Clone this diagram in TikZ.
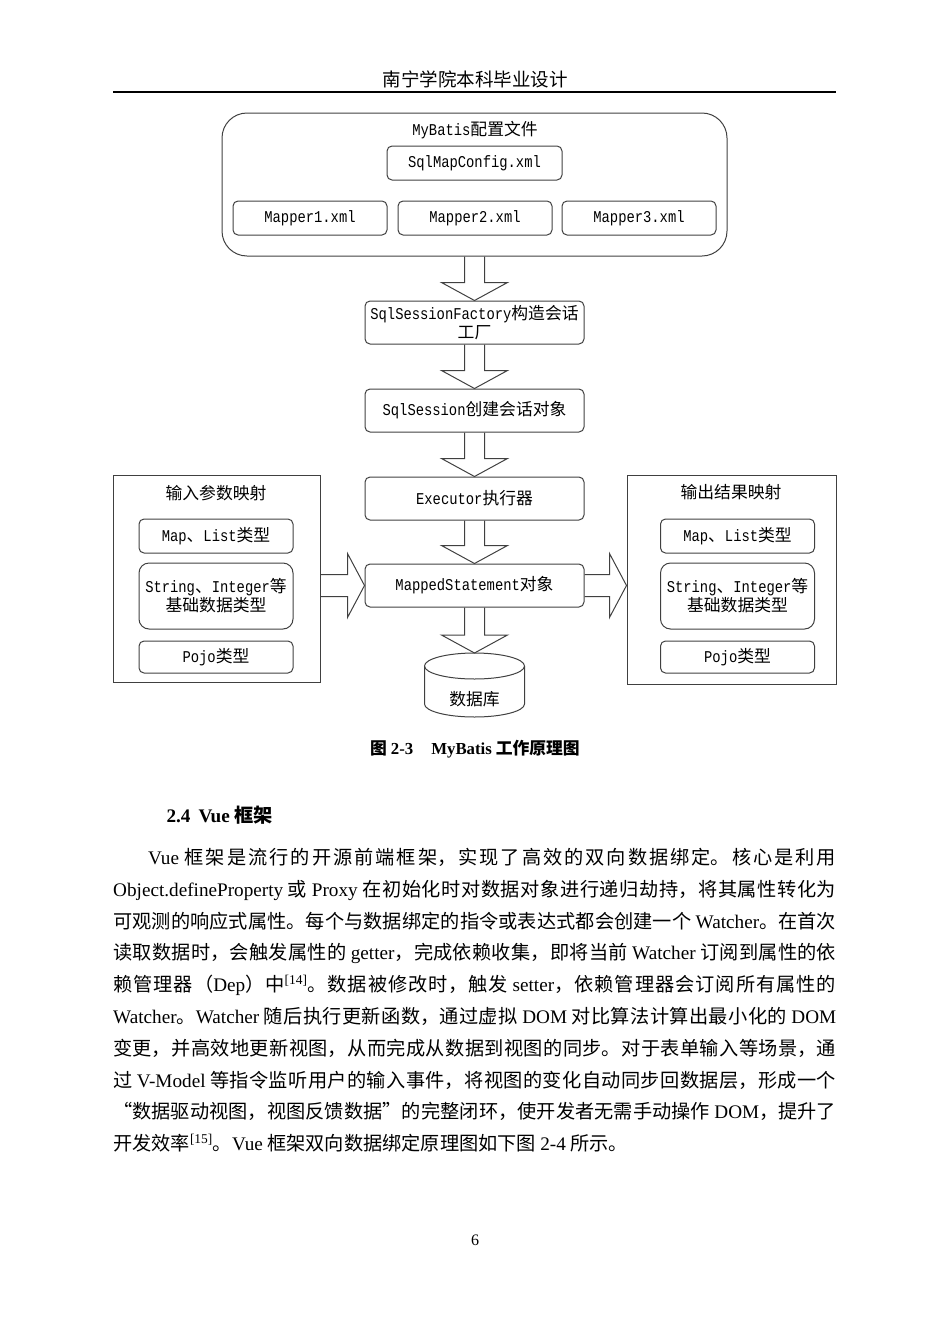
\documentclass[tikz,border=0pt]{standalone}
\usepackage{fontspec}
\setmainfont{Liberation Serif}
\newfontfamily\zhfont{Noto Sans CJK SC}
\newfontfamily\monofont{Liberation Mono}[Scale=0.98, FakeStretch=0.84]
\usetikzlibrary{calc}
\XeTeXlinebreaklocale "zh"
\XeTeXlinebreakskip=0pt plus 3pt minus 0.8pt

\definecolor{linegray}{HTML}{404040}
\newcommand\en[1]{{\rmfamily #1}}
\newcommand\mo[1]{{\monofont #1}}

% block arrows between boxes
\newcommand\blockdown[2]{\draw[blockline] ($#1+(-10,0)$) -- ($#2+(-10,-18)$) -- ($#2+(-33,-18)$) -- #2 -- ($#2+(33,-18)$) -- ($#2+(10,-18)$) -- ($#1+(10,0)$);}
\newcommand\blockright[2]{\draw[blockline] ($#1+(0,-11)$) -- ($#2+(-17,-11)$) -- ($#2+(-17,-32)$) -- #2 -- ($#2+(-17,32)$) -- ($#2+(-17,11)$) -- ($#1+(0,11)$);}

\tikzset{
  diag/.style={font={\zhfont\fontsize{16.8}{19}\selectfont}},
  box/.style={diag, draw=linegray, line width=1pt, rounded corners=5pt, align=center, inner sep=1pt},
  mainbox/.style={box, minimum width=219pt, minimum height=43pt},
  filebox/.style={box, minimum width=154pt, minimum height=34pt},
  typebox/.style={box, minimum width=154pt},
  panel/.style={draw=linegray, line width=1pt, inner sep=0pt},
  blockline/.style={draw=linegray, line width=1pt},
}

\begin{document}
\begin{tikzpicture}[x=1pt, y=-1pt]
  \useasboundingbox (0,0) rectangle (950,1344);

  % page header
  \node[font={\zhfont\fontsize{18.5}{20}\selectfont}] (header) at (475,79) {南宁学院本科毕业设计};
  \draw[line width=1.5pt] (113,92) -- (836,92);

  % configuration files
  \node[panel, rounded corners=25pt, minimum width=505pt, minimum height=143pt] (config) at (474.5,184.5) {};
  \node[diag] (configtitle) at (475,130) {\mo{MyBatis}配置文件};
  \node[box, minimum width=175pt, minimum height=34pt] (mapconfig) at (474.5,163) {\mo{SqlMapConfig.xml}};
  \node[filebox] (mapper1) at (310,218) {\mo{Mapper1.xml}};
  \node[filebox] (mapper2) at (475,218) {\mo{Mapper2.xml}};
  \node[filebox] (mapper3) at (639,218) {\mo{Mapper3.xml}};

  % main flow
  \node[mainbox] (factory) at (474.5,322.5) {\mo{SqlSessionFactory}构造会话\\工厂};
  \node[mainbox] (session) at (474.5,410.5) {\mo{SqlSession}创建会话对象};
  \node[mainbox] (executor) at (474.5,498.5) {\mo{Executor}执行器};
  \node[mainbox] (stmt) at (474.5,585.5) {\mo{MappedStatement}对象};

  % database
  \coordinate (dbtop) at (474.5,653);
  \draw[blockline] (474.5,666) ellipse [x radius=50pt, y radius=13pt];
  \draw[blockline] (424.5,666) -- (424.5,704) arc[start angle=180, end angle=360, x radius=50pt, y radius=13pt] -- (524.5,666);
  \node[diag] (db) at (474.5,699) {数据库};

  % input mapping
  \node[panel, minimum width=207pt, minimum height=207pt] (inbox) at (216.5,578.5) {};
  \node[diag] (intitle) at (216,493) {输入参数映射};
  \node[typebox, minimum height=34pt] (inmap) at (216,536) {\mo{Map}、\mo{List}类型};
  \node[typebox, minimum height=66pt, rounded corners=10pt] (inbasic) at (216,596) {\mo{String}、\mo{Integer}等\\基础数据类型};
  \node[typebox, minimum height=32pt] (inpojo) at (216,657) {\mo{Pojo}类型};

  % output mapping
  \node[panel, minimum width=209pt, minimum height=209pt] (outbox) at (731.5,579.5) {};
  \node[diag] (outtitle) at (731,492) {输出结果映射};
  \node[typebox, minimum height=34pt] (outmap) at (737.5,536) {\mo{Map}、\mo{List}类型};
  \node[typebox, minimum height=66pt, rounded corners=10pt] (outbasic) at (737.5,596) {\mo{String}、\mo{Integer}等\\基础数据类型};
  \node[typebox, minimum height=32pt] (outpojo) at (737.5,657) {\mo{Pojo}类型};

  % arrows
  \blockdown{(config.south)}{(factory.north)}
  \blockdown{(factory.south)}{(session.north)}
  \blockdown{(session.south)}{(executor.north)}
  \blockdown{(executor.south)}{(stmt.north)}
  \blockdown{(stmt.south)}{(dbtop)}
  \coordinate (inpt) at (inbox.east |- stmt.west);
  \coordinate (outpt) at (outbox.west |- stmt.east);
  \blockright{(inpt)}{(stmt.west)}
  \blockright{(stmt.east)}{(outpt)}

  % caption and text
  \node[font={\zhfont\bfseries\fontsize{16.8}{19}\selectfont}] (caption) at (475,749) {图 \en{2-3}\hspace{18pt}\en{MyBatis} 工作原理图};
  \node[anchor=west, font={\zhfont\bfseries\fontsize{19.2}{22}\selectfont}] (section) at (163,815) {\en{2.4}\hspace{8pt}\en{Vue} 框架};
  \node[anchor=north west, inner sep=0pt, text width=723pt, align=justify, font={\zhfont\fontsize{19.2}{31.8}\selectfont}] (para) at (113,848) {%
\hspace*{35pt}\en{Vue} 框架是流行的开源前端框架，实现了高效的双向数据绑定。核心是利用\linebreak
\en{Object.defineProperty} 或 \en{Proxy} 在初始化时对数据对象进行递归劫持，将其属性转化为\linebreak
可观测的响应式属性。每个与数据绑定的指令或表达式都会创建一个 \en{Watcher}。在首次\linebreak
读取数据时，会触发属性的 \en{getter}，完成依赖收集，即将当前 \en{Watcher} 订阅到属性的依\linebreak
赖管理器（\en{Dep}）中\textsuperscript{\en{[14]}}。数据被修改时，触发 \en{setter}，依赖管理器会订阅所有属性的\linebreak
\en{Watcher}。\en{Watcher} 随后执行更新函数，通过虚拟 \en{DOM} 对比算法计算出最小化的 \en{DOM}\linebreak
变更，并高效地更新视图，从而完成从数据到视图的同步。对于表单输入等场景，通\linebreak
过 \en{V-Model} 等指令监听用户的输入事件，将视图的变化自动同步回数据层，形成一个\linebreak
“数据驱动视图，视图反馈数据”的完整闭环，使开发者无需手动操作 \en{DOM}，提升了\linebreak
开发效率\textsuperscript{\en{[15]}}。\en{Vue} 框架双向数据绑定原理图如下图 \en{2-4} 所示。};
  \node[font=\fontsize{16}{18}\selectfont] (pagenum) at (475,1240) {6};
\end{tikzpicture}
\end{document}
